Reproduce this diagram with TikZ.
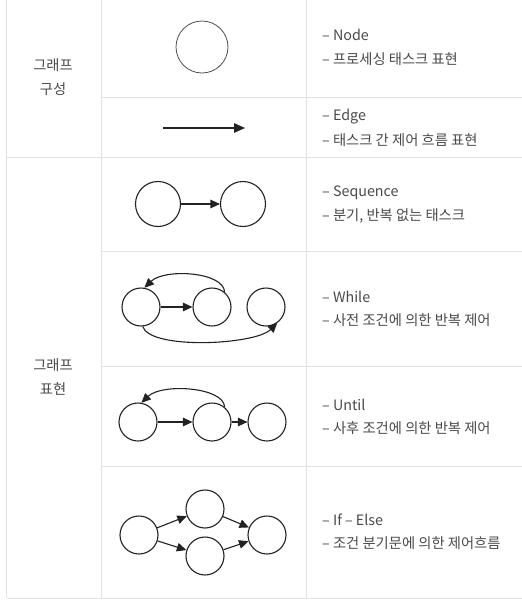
\documentclass[tikz,border=0pt]{standalone}
\usepackage{fontspec}
\setmainfont{Noto Sans CJK KR}
\usetikzlibrary{arrows.meta}
\definecolor{gridc}{HTML}{E2E2E2}
\definecolor{txtc}{HTML}{4A4A4A}
\definecolor{inkc}{HTML}{222222}
\tikzset{
  grid/.style={draw=gridc, line width=1pt},
  lbl/.style={anchor=west, inner sep=0pt, text=txtc, font=\fontsize{14.3}{15}\selectfont},
  clbl/.style={anchor=center, inner sep=0pt, text=txtc, font=\fontsize{14.3}{15}\selectfont},
  vtx/.style={circle, draw=inkc, line width=1.1pt, inner sep=0pt, minimum size=38pt},
  arr/.style={draw=inkc, line width=1.1pt, -{Triangle[length=9.5pt,width=8.5pt]}},
}
\begin{document}
\begin{tikzpicture}[x=1pt,y=-1pt]
\useasboundingbox[fill=white] (0,0) rectangle (522,600);
% table grid
\draw[grid] (6.5,0) -- (6.5,598);
\draw[grid] (101.5,0) -- (101.5,598);
\draw[grid] (306.5,0) -- (306.5,598);
\draw[grid] (101.5,97) -- (522,97);
\draw[grid] (6.5,157) -- (522,157);
\draw[grid] (101.5,251) -- (522,251);
\draw[grid] (101.5,366) -- (522,366);
\draw[grid] (101.5,466) -- (522,466);
\draw[grid] (6.5,598) -- (522,598);
% left labels
\node[clbl] (l1a) at (53,65) {그래프};
\node[clbl] (l1b) at (53,89) {구성};
\node[clbl] (l2a) at (53,365) {그래프};
\node[clbl] (l2b) at (53,389) {표현};
% right texts
\node[lbl] (t1a) at (322,35) {– Node};
\node[lbl] (t1b) at (322,59) {– 프로세싱 태스크 표현};
\node[lbl] (t2a) at (322,117) {– Edge};
\node[lbl] (t2b) at (322,140) {– 태스크 간 제어 흐름 표현};
\node[lbl] (t3a) at (322,193) {– Sequence};
\node[lbl] (t3b) at (322,216) {– 분기, 반복 없는 태스크};
\node[lbl] (t4a) at (322,297) {– While};
\node[lbl] (t4b) at (322,320) {– 사전 조건에 의한 반복 제어};
\node[lbl] (t5a) at (322,405) {– Until};
\node[lbl] (t5b) at (322,428) {– 사후 조건에 의한 반복 제어};
\node[lbl] (t6a) at (322,520) {– If – Else};
\node[lbl] (t6b) at (322,543) {– 조건 분기문에 의한 제어흐름};
% node
\node[vtx, minimum size=52pt, line width=0.8pt, draw=inkc!80] (n0) at (202,47) {};
% edge
\coordinate (e1) at (163,128);
\coordinate (e2) at (245,128);
\draw[draw=inkc, line width=1.4pt, -{Triangle[length=11pt,width=9.5pt]}] (e1) -- (e2);
% sequence
\node[vtx, minimum size=45pt] (sA) at (158,204) {};
\node[vtx, minimum size=45pt] (sB) at (243,204) {};
\draw[arr] (sA) -- (sB);
% while
\node[vtx] (wA) at (141,307) {};
\node[vtx] (wB) at (212,307) {};
\node[vtx] (wC) at (266,307) {};
\draw[arr] (wA) -- (wB);
\draw[arr] (wB.50) .. controls (224,272) and (165,268) .. (wA.80);
\draw[arr] (wA.275) .. controls (150,350) and (255,345) .. (wC.305);
% until
\node[vtx] (uA) at (138,422) {};
\node[vtx] (uB) at (212,422) {};
\node[vtx] (uC) at (267,422) {};
\draw[arr] (uA) -- (uB);
\draw[arr] (uB) -- (uC);
\draw[arr] (uB.50) .. controls (224,387) and (162,383) .. (uA.80);
% if-else
\node[vtx] (iA) at (139,535) {};
\node[vtx] (iT) at (205,509) {};
\node[vtx] (iB) at (205,556) {};
\node[vtx] (iC) at (267,535) {};
\draw[arr] (iA) -- (iT);
\draw[arr] (iA) -- (iB);
\draw[arr] (iT) -- (iC);
\draw[arr] (iB) -- (iC);
\end{tikzpicture}
\end{document}
